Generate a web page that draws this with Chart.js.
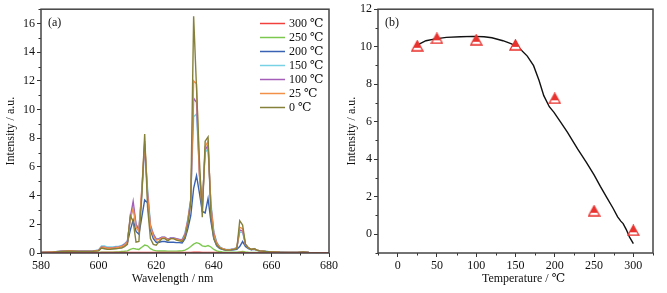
<!DOCTYPE html>
<html>
<head>
<meta charset="utf-8">
<script src="https://cdn.jsdelivr.net/npm/chart.js@4.4.1/dist/chart.umd.min.js"></script>
<style>
    body { margin:0; background:#fff; width:667px; height:293px; position:relative; overflow:hidden; }
    #ca { position:absolute; left:0; top:0; }
    #cb { position:absolute; left:333px; top:0; }
</style>
</head>
<body>
<canvas id="ca" width="345" height="293"></canvas>
<canvas id="cb" width="334" height="293"></canvas>
<script>
// ---------- panel (a): emission spectra ----------
const wavelength = [
    580,584,587,590,593,596,598,600,601,602,
    603,604,605,606,607,608,609,610,611,612,
    613,614,615,616,617,618,619,620,621,622,
    623,624,625,626,627,628,629,630,631,632,
    633,634,635,636,637,638,639,640,641,642,
    643,644,645,646,647,648,649,650,651,652,
    653,654,655,656,658,660,663,666,669,671,
    673,676,680
];
const int300 = [
    0.01,0.02,0.02,0.02,0.02,0.02,0.02,0.02,0.03,0.03,
    0.03,0.03,0.03,0.03,0.03,0.03,0.03,0.03,0.03,0.04,
    0.03,0.03,0.04,0.04,0.04,0.03,0.03,0.03,0.03,0.03,
    0.03,0.03,0.03,0.03,0.03,0.03,0.03,0.03,0.03,0.04,
    0.05,0.05,0.05,0.04,0.04,0.04,0.04,0.03,0.03,0.02,
    0.02,0.02,0.02,0.02,0.02,0.02,0.03,0.03,0.02,0.02,
    0.02,0.02,0.02,0.02,0.01,0.01,0.01,0.01,0.01,0.01,
    0.01,0.01,0.01
];
const int250 = [
    0.01,0.02,0.03,0.03,0.03,0.03,0.03,0.04,0.06,0.06,
    0.06,0.06,0.06,0.07,0.08,0.10,0.12,0.15,0.25,0.32,
    0.28,0.25,0.40,0.55,0.50,0.30,0.20,0.15,0.14,0.14,
    0.14,0.13,0.13,0.13,0.13,0.14,0.15,0.20,0.30,0.45,
    0.62,0.72,0.65,0.50,0.45,0.52,0.42,0.25,0.15,0.10,
    0.07,0.06,0.05,0.05,0.05,0.06,0.08,0.10,0.07,0.05,
    0.04,0.04,0.03,0.03,0.02,0.02,0.02,0.01,0.01,0.02,
    0.01,0.01,0.01
];
const int200 = [
    0.03,0.07,0.10,0.13,0.10,0.10,0.12,0.18,0.40,0.40,
    0.35,0.35,0.36,0.38,0.40,0.45,0.55,0.70,1.60,2.30,
    1.50,1.30,2.50,3.70,3.50,1.60,1.00,0.75,0.75,0.80,
    0.80,0.75,0.75,0.75,0.72,0.72,0.70,1.00,1.70,2.60,
    4.50,5.40,4.20,2.90,2.80,3.80,2.20,1.00,0.50,0.32,
    0.25,0.20,0.20,0.20,0.22,0.25,0.45,0.80,0.45,0.30,
    0.22,0.25,0.18,0.13,0.10,0.07,0.05,0.04,0.03,0.05,
    0.03,0.02,0.01
];
const int150 = [
    0.04,0.08,0.12,0.16,0.12,0.12,0.14,0.22,0.50,0.50,
    0.42,0.42,0.43,0.45,0.47,0.52,0.65,0.85,2.30,3.30,
    2.00,1.70,4.00,7.40,4.50,2.00,1.35,1.00,1.00,1.10,
    1.10,0.95,1.05,1.05,1.00,0.95,0.95,1.40,2.40,3.80,
    9.50,9.70,5.80,3.40,7.00,7.30,3.50,1.50,0.75,0.45,
    0.32,0.27,0.24,0.26,0.30,0.38,1.45,1.45,0.60,0.35,
    0.25,0.32,0.20,0.15,0.12,0.08,0.06,0.04,0.03,0.06,
    0.03,0.02,0.01
];
const int100 = [
    0.03,0.08,0.12,0.15,0.12,0.12,0.13,0.20,0.42,0.40,
    0.35,0.35,0.37,0.40,0.42,0.48,0.60,0.80,2.50,3.60,
    2.00,1.60,4.30,7.60,4.20,1.90,1.30,0.95,1.00,1.10,
    1.10,0.95,1.05,1.05,1.00,0.95,0.90,1.30,2.30,3.70,
    10.8,10.5,5.50,3.20,7.20,7.50,3.30,1.40,0.70,0.42,
    0.30,0.25,0.22,0.25,0.28,0.35,1.60,1.55,0.60,0.35,
    0.25,0.30,0.20,0.15,0.10,0.08,0.05,0.04,0.03,0.06,
    0.03,0.02,0.01
];
const int25 = [
    0.03,0.07,0.10,0.14,0.10,0.10,0.12,0.18,0.40,0.38,
    0.33,0.33,0.35,0.37,0.40,0.45,0.55,0.75,2.40,3.10,
    1.80,1.50,4.50,7.80,4.00,1.80,1.20,0.90,0.95,1.05,
    1.05,0.90,1.00,1.00,0.95,0.90,0.85,1.20,2.20,3.60,
    12.0,11.8,5.50,3.00,7.40,7.80,3.20,1.30,0.65,0.40,
    0.30,0.25,0.22,0.24,0.27,0.35,1.80,1.70,0.60,0.35,
    0.25,0.30,0.20,0.15,0.10,0.08,0.05,0.04,0.03,0.06,
    0.03,0.02,0.01
];
const int0 = [
    0.03,0.06,0.10,0.13,0.10,0.10,0.12,0.15,0.35,0.30,
    0.25,0.25,0.28,0.30,0.32,0.35,0.45,0.60,2.60,2.20,
    0.75,0.80,4.00,8.30,3.20,1.00,0.60,0.55,0.80,1.00,
    1.00,0.85,1.00,1.00,0.90,0.85,0.80,1.10,2.00,3.50,
    16.5,11.5,6.50,2.50,7.80,8.10,2.50,1.00,0.55,0.35,
    0.25,0.20,0.20,0.22,0.25,0.30,2.25,1.95,0.60,0.35,
    0.25,0.30,0.20,0.15,0.10,0.08,0.05,0.04,0.03,0.07,
    0.03,0.02,0.01
];
const seriesLabels = ['300 ℃', '250 ℃', '200 ℃', '150 ℃', '100 ℃', '25 ℃', '0 ℃'];
const seriesValues = [int300, int250, int200, int150, int100, int25, int0];
const seriesColors = ['#f2403c', '#7cc84e', '#3a62b4', '#78d2e6', '#a45db8', '#f39048', '#85803a'];
const xTicksA = [580, 600, 620, 640, 660, 680];
const yTicksA = [0, 2, 4, 6, 8, 10, 12, 14, 16];

// ---------- panel (b): intensity vs temperature ----------
const temperature = [25, 50, 100, 150, 200, 250, 300];
const peakIntensity = [10.05, 10.45, 10.37, 10.1, 7.25, 1.25, 0.21];
const fitT = [21, 28, 36, 48, 62, 80, 96, 110, 120, 134, 145, 156, 165, 173, 180, 186, 193, 199, 207, 216, 222, 229, 240, 250, 258, 267, 274, 280, 284, 287, 291, 295, 300];
const fitI = [9.95, 10.15, 10.32, 10.42, 10.5, 10.53, 10.55, 10.53, 10.48, 10.32, 10.15, 9.88, 9.5, 8.99, 8.2, 7.39, 6.8, 6.5, 6.0, 5.44, 5.03, 4.55, 3.85, 3.17, 2.55, 1.9, 1.4, 0.93, 0.7, 0.57, 0.25, -0.14, -0.5];
const xTicksB = [0, 50, 100, 150, 200, 250, 300];
const yTicksB = [0, 2, 4, 6, 8, 10, 12];

const SERIF = "'Liberation Serif', 'DejaVu Serif', serif";
Chart.defaults.font.family = SERIF;
Chart.defaults.font.size = 12;
Chart.defaults.color = '#111';
Chart.defaults.animation = false;

// frame, minor ticks, panel tag, x title and in-plot legend
const frameTicks = {
    id: 'frameTicks',
    afterDraw(chart, args, opts) {
        const { ctx, chartArea: a } = chart;
        ctx.save();
        ctx.strokeStyle = '#333';
        ctx.lineWidth = 1;
        [['x', opts.minorX], ['y', opts.minorY]].forEach(([id, step]) => {
            const s = chart.scales[id];
            for (let v = s.min; v <= s.max + 1e-9; v += step) {
                if (s.ticks.some(t => Math.abs(t.value - v) < 1e-9)) continue;
                const p = Math.round(s.getPixelForValue(v)) + 0.5;
                ctx.beginPath();
                if (id === 'x') { ctx.moveTo(p, a.bottom); ctx.lineTo(p, a.bottom + 2.5); }
                else { ctx.moveTo(a.left, p); ctx.lineTo(a.left - 2.5, p); }
                ctx.stroke();
            }
        });
        ctx.lineWidth = 1.5;
        ctx.strokeStyle = '#444';
        ctx.strokeRect(a.left, a.top, a.right - a.left, a.bottom - a.top);

        ctx.fillStyle = '#111';
        ctx.font = '12px ' + SERIF;
        ctx.textBaseline = 'middle';
        ctx.fillText(opts.tag, a.left + 7, 23);

        // x axis title (sits a little off the plot centre, as in the figure)
        ctx.textAlign = 'center';
        ctx.fillText(opts.xTitle, opts.xTitleX, 279);
        ctx.textAlign = 'left';

        if (opts.legend) {
            seriesLabels.forEach((lab, i) => {
                const y = 23.5 + i * 14;
                ctx.strokeStyle = seriesColors[i];
                ctx.lineWidth = 1.5;
                ctx.beginPath();
                ctx.moveTo(260, y); ctx.lineTo(285, y);
                ctx.stroke();
                ctx.fillText(lab, 289, y);
            });
        }
        ctx.restore();
    }
};

function axis(tickValues, min, max, w, h, title, titlePad) {
    const o = {
        type: 'linear', min: min, max: max,
        afterBuildTicks: s => { s.ticks = tickValues.map(v => ({ value: v })); },
        grid: { drawOnChartArea: false, drawTicks: true, tickLength: 4, color: '#333', lineWidth: 1 },
        border: { display: false },
        ticks: { padding: 2, color: '#111', font: { size: 12 } },
        title: { display: !!title, text: title, color: '#111', font: { size: 12 }, padding: titlePad }
    };
    if (w) o.afterFit = s => { s.width = w; };
    if (h) o.afterFit = s => { s.height = h; };
    return o;
}

new Chart(document.getElementById('ca'), {
    type: 'line',
    data: {
        datasets: seriesValues.map((vals, i) => ({
            label: seriesLabels[i],
            data: wavelength.map((x, k) => ({ x: x, y: vals[k] })),
            borderColor: seriesColors[i],
            borderWidth: 1.4,
            pointRadius: 0,
            tension: 0,
            order: i === 0 ? 0 : (i === 6 ? 1 : 8 - i)
        }))
    },
    options: {
        responsive: false,
        devicePixelRatio: 1,
        layout: { padding: { top: 8, right: 16, bottom: 0, left: 0 } },
        plugins: {
            legend: { display: false }, tooltip: { enabled: false },
            frameTicks: { minorX: 10, minorY: 1, tag: '(a)', legend: true, xTitle: 'Wavelength / nm', xTitleX: 172.5 }
        },
        scales: {
            x: axis(xTicksA, 580, 680, 0, 40, '', { top: 0, bottom: 5 }),
            y: axis(yTicksA, 0, 17, 41, 0, 'Intensity / a.u.', { top: 4, bottom: 0 })
        }
    },
    plugins: [frameTicks]
});

// half-filled red triangle marker
const tri = document.createElement('canvas');
tri.width = 13; tri.height = 12;
(function () {
    const c = tri.getContext('2d');
    const path = () => { c.beginPath(); c.moveTo(6.5, 1); c.lineTo(12, 11); c.lineTo(1, 11); c.closePath(); };
    c.save();
    path(); c.clip();
    c.fillStyle = '#e8322e';
    c.fillRect(0, 0, 13, 8);
    c.fillStyle = '#fff';
    c.fillRect(0, 8, 13, 4);
    c.restore();
    path();
    c.strokeStyle = '#e8322e';
    c.lineWidth = 1.3;
    c.stroke();
})();

new Chart(document.getElementById('cb'), {
    type: 'line',
    data: {
        datasets: [
            {
                data: temperature.map((t, k) => ({ x: t, y: peakIntensity[k] })),
                showLine: false,
                pointStyle: tri,
                pointRadius: 6,
                order: 1
            },
            {
                data: fitT.map((t, k) => ({ x: t, y: fitI[k] })),
                borderColor: '#111',
                borderWidth: 1.4,
                pointRadius: 0,
                tension: 0,
                order: 2
            }
        ]
    },
    options: {
        responsive: false,
        devicePixelRatio: 1,
        layout: { padding: { top: 9, right: 14, bottom: 0, left: 0 } },
        plugins: {
            legend: { display: false }, tooltip: { enabled: false },
            frameTicks: { minorX: 25, minorY: 1, tag: '(b)', legend: false, xTitle: 'Temperature / ℃', xTitleX: 190.5 }
        },
        scales: {
            x: axis(xTicksB, -25, 325, 0, 40, '', { top: 0, bottom: 5 }),
            y: axis(yTicksB, -1, 12, 45, 0, 'Intensity / a.u.', { top: 12, bottom: 0 })
        }
    },
    plugins: [frameTicks]
});
</script>
</body>
</html>
